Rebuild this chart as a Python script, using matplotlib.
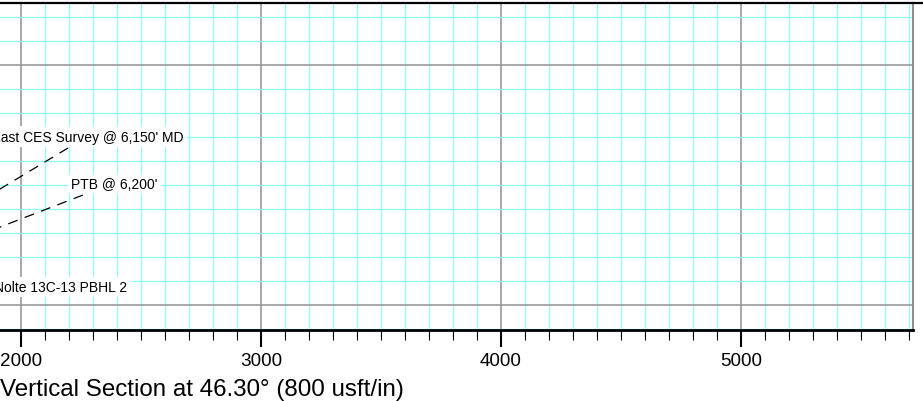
import matplotlib
matplotlib.use("Agg")
import matplotlib.pyplot as plt
from matplotlib.ticker import MultipleLocator
from matplotlib.lines import Line2D

plt.rcParams["font.family"] = ["Liberation Sans", "DejaVu Sans"]

# view window (usft): vertical section and TVD
vs_lim = [1912.5, 5716.7]
tvd_lim = [6104.0, 4740.0]
major_ticks = [2000, 3000, 4000, 5000]
tick_labels = ["2000", "3000", "4000", "5000"]

# annotations: label text, anchor point, alignment
ann_text = ["Last CES Survey @ 6,150' MD", "PTB @ 6,200'", "Nolte 13C-13 PBHL 2"]
ann_x = [2679, 2390, 2442]
ann_y = [5300, 5496, 5925]
ann_ha = ["right", "center", "right"]

# dashed leader lines (start near label, run toward wellbore off to the left)
lead_x0 = [2196, 2258]
lead_y0 = [5346, 5542]
lead_x1 = [1700, 1700]
lead_y1 = [5645, 5757]

fig = plt.figure(figsize=(9.23, 4.02), dpi=100)
ax = fig.add_axes([0.0, 1 - 331 / 402, 913 / 923, (331 - 3.5) / 402])

ax.set_xlim(vs_lim)
ax.set_ylim(tvd_lim)

ax.xaxis.set_major_locator(MultipleLocator(1000))
ax.xaxis.set_minor_locator(MultipleLocator(100))
ax.yaxis.set_major_locator(MultipleLocator(1000))
ax.yaxis.set_minor_locator(MultipleLocator(100))
ax.set_xticks(major_ticks)
ax.set_xticklabels(tick_labels)

ax.set_axisbelow(True)
ax.grid(which="minor", color="#8cffff", lw=0.9)
ax.grid(which="major", color="#999999", lw=1.2)

ax.tick_params(axis="x", which="major", direction="out", length=12.2, width=1.5,
               labelsize=13.6, pad=4, color="black")
ax.tick_params(axis="x", which="minor", direction="out", length=7, width=0.8,
               color="black")
ax.tick_params(axis="y", which="both", length=0, labelleft=False)

ax.spines["left"].set_visible(False)
ax.spines["top"].set_visible(False)
ax.spines["bottom"].set_linewidth(2.0)
ax.spines["right"].set_color("#909090")
ax.spines["right"].set_linewidth(1.5)

for x0, y0, x1, y1 in zip(lead_x0, lead_y0, lead_x1, lead_y1):
    ax.plot([x0, x1], [y0, y1], color="black", lw=0.9, ls=(0, (8, 6)), zorder=3)

for t, x, y, ha in zip(ann_text, ann_x, ann_y, ann_ha):
    ax.text(x, y, t, ha=ha, va="center", fontsize=10, zorder=4,
            bbox=dict(facecolor="white", edgecolor="none", pad=2.5))

# frame line across the top of the page
fig.add_artist(Line2D([0, 1], [1 - 3.5 / 402] * 2, color="black", lw=1.6,
                      transform=fig.transFigure))

fig.text(0.0, 1 - 390 / 402, "Vertical Section at 46.30\u00b0 (800 usft/in)",
         ha="left", va="center", fontsize=17.4)

fig.savefig("out.png", dpi=100)
